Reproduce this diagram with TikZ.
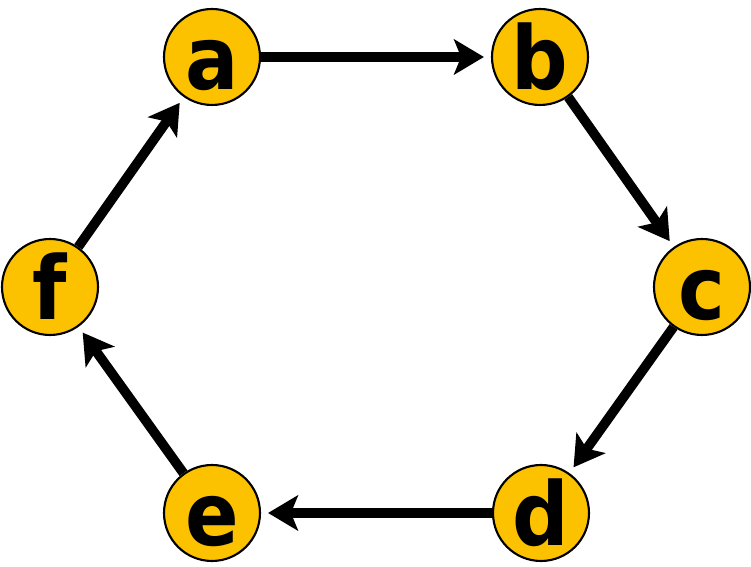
\documentclass[tikz,border=0pt]{standalone}
\usepackage{fontspec}
\setmainfont{DejaVu Sans}
\newfontfamily\vertexfont{DejaVu Sans Condensed}
\definecolor{cyclegold}{RGB}{252,194,0}
\usetikzlibrary{arrows.meta}

\begin{document}
\begin{tikzpicture}[x=0.02cm, y=0.02cm,
  vertex/.style={circle, draw=black, line width=1.2pt, fill=cyclegold,
                 minimum size=1.92cm, inner sep=0pt, text height=1.3cm, text depth=0pt,
                 font=\vertexfont\fontsize{50}{50}\selectfont\bfseries},
  edge/.style={line width=5.5pt, -{Stealth[length=17pt, width=20pt, inset=4pt]},
               shorten >=4pt}]

\useasboundingbox (0,0) rectangle (751,567);

% --- Vertices ---
\node[vertex] (a) at (212,510) {a};
\node[vertex] (b) at (540,510) {b};
\node[vertex] (c) at (702,280) {c};
\node[vertex] (d) at (541,54) {d};
\node[vertex] (e) at (212,54) {e};
\node[vertex] (f) at (50,280) {f};

% --- Cycle edges ---
\draw[edge] (a) -- (b);
\draw[edge] (b) -- (c);
\draw[edge] (c) -- (d);
\draw[edge] (d) -- (e);
\draw[edge] (e) -- (f);
\draw[edge] (f) -- (a);

\end{tikzpicture}
\end{document}
